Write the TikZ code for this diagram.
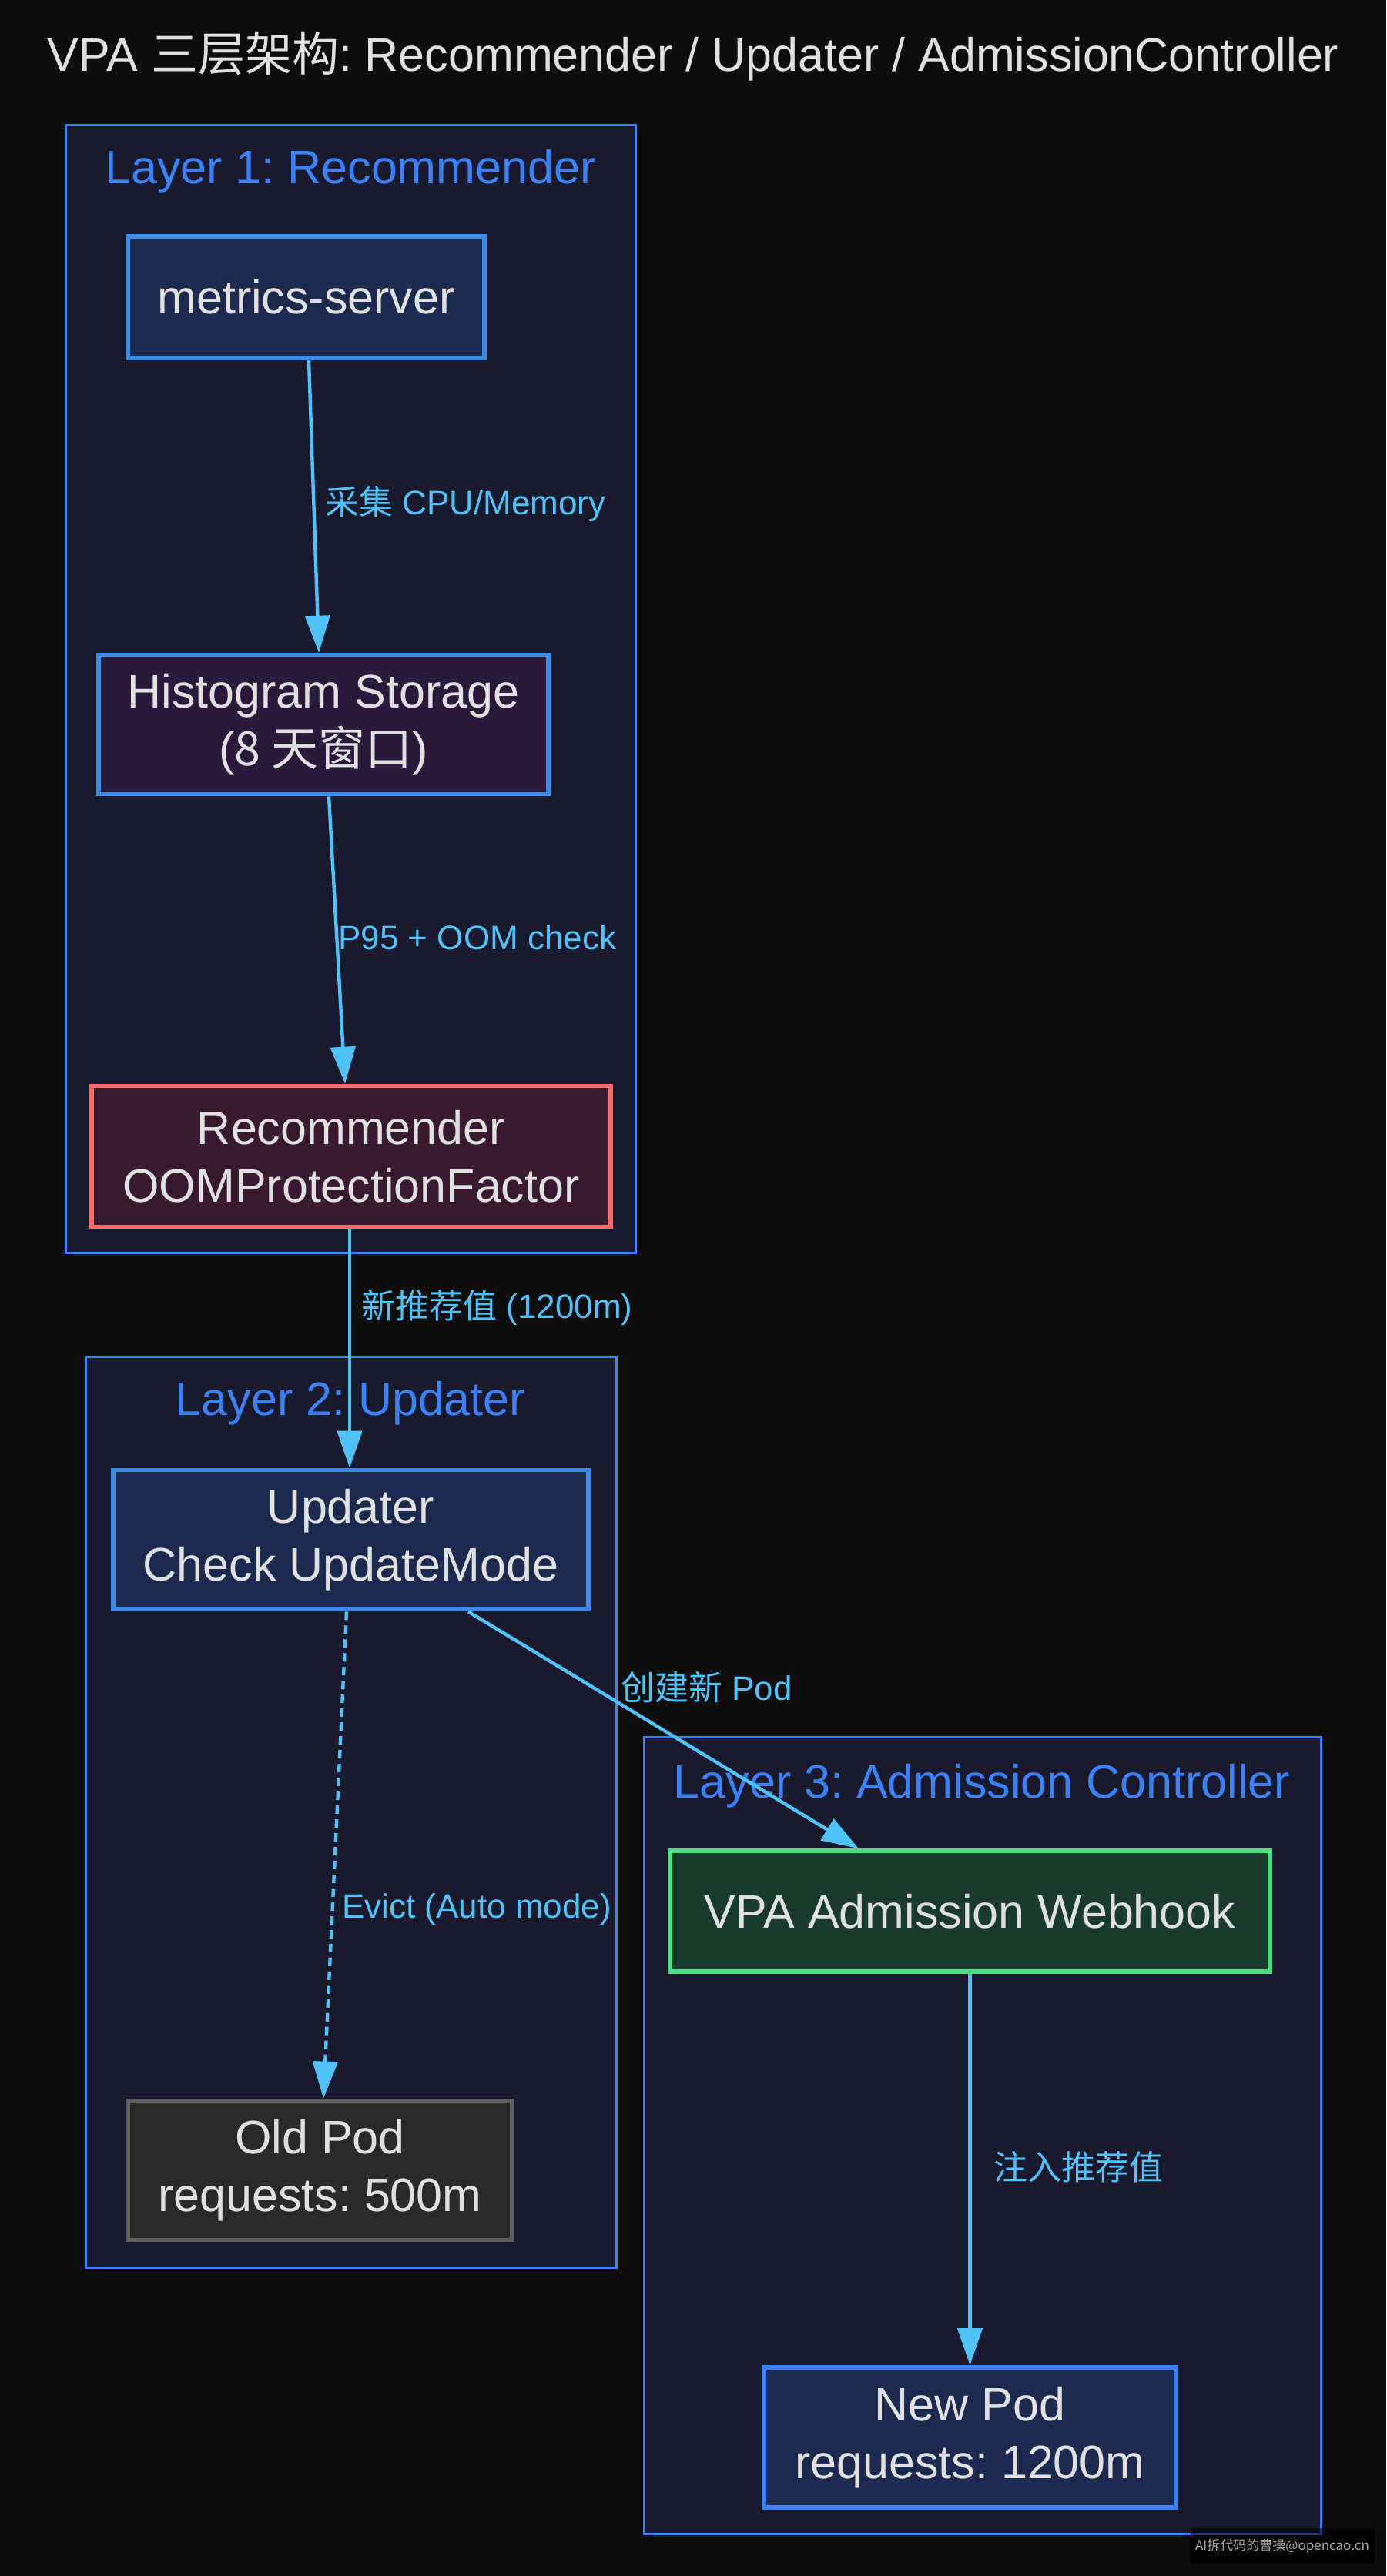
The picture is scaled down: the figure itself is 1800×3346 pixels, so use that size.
\documentclass[tikz,border=0pt]{standalone}
\usepackage{fontspec}
\setmainfont{Liberation Sans}
\newfontfamily\cjk{Noto Sans CJK SC}
\usetikzlibrary{arrows.meta}
\frenchspacing
\definecolor{bgc}{HTML}{0D0D0D}
\definecolor{clfill}{HTML}{1A1A2E}
\definecolor{clborder}{HTML}{3B82F6}
\definecolor{nblue}{HTML}{1B2A4E}
\definecolor{nblueb}{HTML}{3B8BE8}
\definecolor{npurple}{HTML}{2A1B3D}
\definecolor{nred}{HTML}{3A1A2E}
\definecolor{nredb}{HTML}{FF6B6B}
\definecolor{ngray}{HTML}{2A2A2A}
\definecolor{ngrayb}{HTML}{5E5E5E}
\definecolor{ngreen}{HTML}{1B3A2E}
\definecolor{ngreenb}{HTML}{4ADE80}
\definecolor{edgec}{HTML}{4FC3F7}
\definecolor{txt}{HTML}{E0E0E0}
\begin{document}
\begin{tikzpicture}[x=0.5pt,y=-0.5pt,
  cluster/.style={draw=clborder, fill=clfill, line width=1.5pt},
  cllabel/.style={text=clborder, font=\fontsize{30.5}{37.5}\selectfont, inner sep=0pt},
  box/.style={draw=nblueb, fill=nblue, line width=2.8pt, text=txt, align=center,
    font=\fontsize{30.5}{37.5}\selectfont, inner sep=0pt},
  conn/.style={draw=edgec, line width=2.2pt, -{Triangle[length=24pt,width=16pt]}},
  lbl/.style={text=edgec, font=\fontsize{22}{26}\selectfont, anchor=west, inner sep=0pt}]
\useasboundingbox[fill=bgc] (0,0) rectangle (1800,3346);

% title
\node[text=txt, font=\fontsize{30.5}{37.5}\selectfont, inner sep=0pt] (title) at (900,73)
  {VPA {\cjk 三层架构}: Recommender / Updater / AdmissionController};

% clusters
\draw[cluster] (85,162) rectangle (825,1627);
\node[cllabel] (c1) at (455,223) {Layer 1: Recommender};
\draw[cluster] (111,1762) rectangle (800,2945);
\node[cllabel] (c2) at (455,1823) {Layer 2: Updater};
\draw[cluster] (836,2256) rectangle (1715,3291);
\node[cllabel] (c3) at (1275,2320) {Layer 3: Admission Controller};

% nodes
\node[box, minimum width=231.5pt, minimum height=79pt] (metrics) at (397.5,386) {metrics-server};
\node[box, fill=npurple, minimum width=292pt, minimum height=90.5pt] (hist) at (420,941)
  {Histogram Storage\\({\cjk 8 天窗口})};
\node[box, fill=nred, draw=nredb, minimum width=337pt, minimum height=91.5pt] (rec) at (456,1502)
  {Recommender\\OOMProtectionFactor};
\node[box, minimum width=308.5pt, minimum height=90.5pt] (upd) at (455.5,2000)
  {Updater\\Check UpdateMode};
\node[box, fill=ngray, draw=ngrayb, minimum width=249.5pt, minimum height=90.5pt] (old) at (415.5,2819)
  {Old Pod\\requests: 500m};
\node[box, fill=ngreen, draw=ngreenb, minimum width=389.5pt, minimum height=78.5pt] (hook) at (1259.5,2482.5)
  {VPA Admission Webhook};
\node[box, draw=clborder, minimum width=267.5pt, minimum height=91pt] (new) at (1259.5,3166)
  {New Pod\\requests: 1200m};

% connectors
\draw[conn] ([xshift=1.75pt]metrics.south) -- ([xshift=-3pt]hist.north);
\draw[conn] ([xshift=3.5pt]hist.south) -- ([xshift=-4pt]rec.north);
\draw[conn] ([xshift=-1pt]rec.south) -- ([xshift=-0.75pt]upd.north);
\draw[conn, dash pattern=on 5.5pt off 3.5pt] ([xshift=-2.75pt]upd.south) -- ([xshift=2.25pt]old.north);
\draw[conn] ([xshift=76.25pt]upd.south) -- ([xshift=-72.25pt]hook.north);
\draw[conn] (hook.south) -- (new.north);

% edge labels
\node[lbl] (l1) at (422,655) {{\cjk 采集} CPU/Memory};
\node[lbl] (l2) at (439,1218) {P95 + OOM check};
\node[lbl] (l3) at (469,1698) {{\cjk 新推荐值} (1200m)};
\node[lbl] (l4) at (444,2480) {Evict (Auto mode)};
\node[lbl] (l5) at (806,2192) {{\cjk 创建新} Pod};
\node[lbl] (l6) at (1290,2815) {{\cjk 注入推荐值}};

% watermark
\fill[black, opacity=0.55] (1546,3284) rectangle (1785,3331);
\node[text=white!65!black, font=\cjk\fontsize{8.5}{10}\selectfont, inner sep=0pt] (wm) at (1665,3307)
  {AI拆代码的曹操@opencao.cn};
\end{tikzpicture}
\end{document}
